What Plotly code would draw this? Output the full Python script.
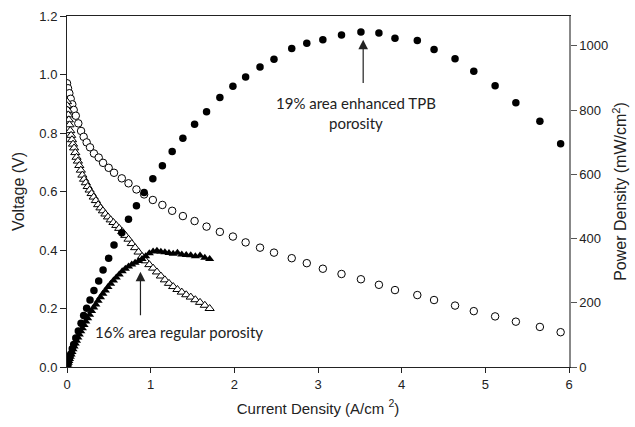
import plotly.graph_objects as go

# Enhanced TPB porosity (19% area)
current_enh = [0.0, 0.012, 0.028, 0.044, 0.063, 0.08, 0.105, 0.135, 0.168, 0.199,
               0.235, 0.275, 0.322, 0.379, 0.431, 0.498, 0.562, 0.655, 0.735, 0.83,
               0.922, 1.026, 1.14, 1.257, 1.385, 1.525, 1.668, 1.827, 1.983, 2.135,
               2.307, 2.474, 2.686, 2.866, 3.058, 3.281, 3.513, 3.728, 3.920, 4.187,
               4.387, 4.638, 4.862, 5.117, 5.365, 5.652, 5.900]
voltage_enh = [0.97, 0.953, 0.936, 0.917, 0.898, 0.879, 0.859, 0.833, 0.807, 0.787,
               0.768, 0.751, 0.730, 0.716, 0.698, 0.681, 0.664, 0.645, 0.628, 0.607,
               0.590, 0.571, 0.554, 0.534, 0.516, 0.499, 0.480, 0.462, 0.446, 0.426,
               0.408, 0.391, 0.372, 0.355, 0.336, 0.318, 0.300, 0.281, 0.263, 0.246,
               0.229, 0.210, 0.191, 0.173, 0.155, 0.137, 0.119]
power_enh = [0, 11, 26, 40, 57, 70, 90, 112, 136, 160,
             183, 209, 238, 268, 302, 339, 380, 418, 460, 502,
             543, 586, 627, 671, 712, 756, 795, 839, 874, 903,
             934, 958, 992, 1008, 1019, 1034, 1043, 1040, 1024, 1017,
             989, 960, 921, 876, 823, 765, 695]

# Regular porosity (16% area)
current_reg = [0, 0.004, 0.009, 0.015, 0.022, 0.030, 0.039, 0.049, 0.060, 0.072,
               0.085, 0.099, 0.114, 0.130, 0.147, 0.165, 0.184, 0.204, 0.225, 0.247,
               0.270, 0.294, 0.319, 0.345, 0.372, 0.400, 0.429, 0.459, 0.490, 0.522,
               0.555, 0.589, 0.624, 0.660, 0.697, 0.735, 0.774, 0.814, 0.855, 0.897,
               0.940, 0.984, 1.029, 1.075, 1.122, 1.170, 1.219, 1.269, 1.320, 1.372,
               1.425, 1.479, 1.534, 1.590, 1.647, 1.705]
voltage_reg = [0.907, 0.893, 0.878, 0.862, 0.845, 0.828, 0.808, 0.792, 0.777, 0.762,
               0.749, 0.733, 0.717, 0.704, 0.689, 0.673, 0.656, 0.642, 0.630, 0.617,
               0.605, 0.593, 0.581, 0.569, 0.555, 0.544, 0.534, 0.523, 0.513, 0.503,
               0.494, 0.484, 0.474, 0.463, 0.450, 0.437, 0.422, 0.408, 0.393, 0.378,
               0.363, 0.350, 0.338, 0.325, 0.311, 0.298, 0.286, 0.275, 0.265, 0.256,
               0.247, 0.239, 0.230, 0.221, 0.211, 0.200]
power_reg = [0, 4, 8, 13, 19, 25, 32, 39, 47, 55,
             64, 73, 82, 92, 101, 111, 121, 131, 142, 152,
             163, 174, 185, 195, 206, 217, 228, 238, 249, 259,
             269, 279, 288, 298, 306, 313, 319, 325, 330, 336,
             345, 354, 360, 362, 359, 357, 355, 353, 356, 350,
             349, 348, 345, 347, 340, 336]

x_ticks = [0, 1, 2, 3, 4, 5, 6]
y_ticks = [0.0, 0.2, 0.4, 0.6, 0.8, 1.0, 1.2]
y2_ticks = [0, 200, 400, 600, 800, 1000]

FONT = "Liberation Sans, Arial, sans-serif"
ANN_FONT = "Lato, Open Sans, sans-serif"
MS = 7.5

fig = go.Figure()
fig.add_trace(go.Scatter(x=current_enh, y=voltage_enh, mode="markers", yaxis="y",
                         marker=dict(symbol="circle", size=MS, color="white",
                                     line=dict(color="black", width=1))))
fig.add_trace(go.Scatter(x=current_reg, y=voltage_reg, mode="markers", yaxis="y",
                         marker=dict(symbol="triangle-up", size=MS + 0.5, color="white",
                                     line=dict(color="black", width=1))))
fig.add_trace(go.Scatter(x=current_enh, y=power_enh, mode="markers", yaxis="y2",
                         marker=dict(symbol="circle", size=MS, color="black",
                                     line=dict(color="black", width=0))))
fig.add_trace(go.Scatter(x=current_reg, y=power_reg, mode="markers", yaxis="y2",
                         marker=dict(symbol="triangle-up", size=MS + 0.5, color="black",
                                     line=dict(color="black", width=0))))

ann_font = dict(family=ANN_FONT, size=15, color="#222")
annotations = [
    dict(x=3.54, y=1019, xref="x", yref="y2", ax=3.54, ay=880, axref="x", ayref="y2",
         showarrow=True, arrowhead=2, arrowsize=1.6, arrowwidth=1.2, arrowcolor="#222", text=""),
    dict(x=3.46, y=792, xref="x", yref="y2", text="19% area enhanced TPB<br>porosity",
         showarrow=False, align="center", font=ann_font),
    dict(x=0.878, y=0.326, xref="x", yref="y", ax=0.878, ay=0.172, axref="x", ayref="y",
         showarrow=True, arrowhead=2, arrowsize=1.6, arrowwidth=1.2, arrowcolor="#222", text=""),
    dict(x=1.333, y=0.121, xref="x", yref="y", text="16% area regular porosity",
         showarrow=False, font=ann_font),
]

fig.update_layout(
    width=635, height=427,
    margin=dict(l=67, r=66, t=16, b=60),
    paper_bgcolor="white", plot_bgcolor="white",
    showlegend=False,
    font=dict(family=FONT, size=13, color="#222"),
    xaxis=dict(range=[0, 6], tickvals=x_ticks, ticks="outside", ticklen=5,
               tickcolor="#222", showline=True, linecolor="#222", linewidth=1,
               mirror=True, showgrid=False, zeroline=False, automargin=False,
               title=dict(text="Current Density (A/cm <sup>2</sup>)",
                          font=dict(size=15), standoff=12)),
    yaxis=dict(range=[0, 1.2], tickvals=y_ticks, tickformat=".1f", ticks="outside",
               ticklen=6, tickcolor="#222", showline=True, linecolor="#222",
               linewidth=1, showgrid=False, zeroline=False, automargin=False,
               title=dict(text="Voltage (V)", font=dict(size=16), standoff=10)),
    yaxis2=dict(range=[0, 1093], tickvals=y2_ticks, overlaying="y", side="right",
                ticks="outside", ticklen=6, tickcolor="#555", showline=True,
                linecolor="#888", linewidth=1.5, showgrid=False, zeroline=False,
                automargin=False,
                title=dict(text="Power Density (mW/cm<sup>2</sup>)",
                           font=dict(size=16), standoff=8)),
    annotations=annotations,
)

fig.write_html("out.html", config={"displayModeBar": False},
               post_script="document.body.style.margin='0';document.body.style.padding='0';")
